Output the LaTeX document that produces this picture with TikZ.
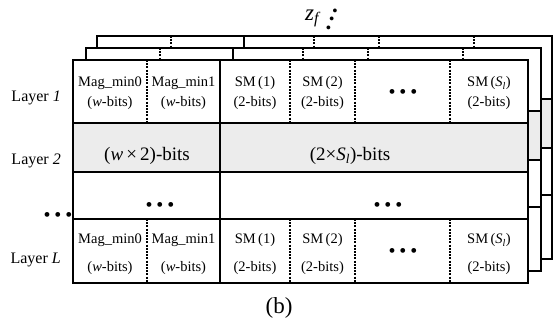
\documentclass[tikz,border=0pt]{standalone}
\usepackage{fontspec}
\setmainfont{Liberation Serif}
\usepackage{xcolor}
\definecolor{bitgray}{RGB}{236,236,236}
\tikzset{
  wordframe/.style={
    draw=black,
    line width=2.7pt
  },
  rowsplit/.style={
    draw=black,
    line width=2.7pt
  },
  fieldsplit/.style={
    draw=black,
    line width=1.2pt,
    dash pattern=on 2pt off 1.2pt
  },
  fieldtext/.style={
    font=\fontsize{14.5}{20}\selectfont,
    align=center,
    inner sep=0pt
  },
  fieldtextL/.style={
    fieldtext,
    font=\fontsize{14.5}{28}\selectfont
  },
  layertext/.style={
    font=\fontsize{16}{18}\selectfont,
    anchor=base east,
    inner sep=0pt
  },
  widetext/.style={
    font=\fontsize{19}{22}\selectfont,
    anchor=base,
    inner sep=0pt
  },
  dotstext/.style={
    font=\fontsize{20}{22}\selectfont,
    inner sep=0pt
  },
  captext/.style={
    font=\fontsize{23}{26}\selectfont,
    anchor=base,
    inner sep=0pt
  }
}
\newcommand{\bitdots}{\textbullet\kern3.8pt\textbullet\kern3.8pt\textbullet}
% one stored word of the layer memory, drawn at the current shift
\newcommand{\drawword}{%
  \fill[white] (73,60) rectangle (528,283);
  \fill[bitgray] (73,123) rectangle (528,172);
  \draw[fieldsplit] (147,60) -- (147,123) (290,60) -- (290,123) (355,60) -- (355,123) (450,60) -- (450,123);
  \draw[fieldsplit] (147,219) -- (147,283) (290,219) -- (290,283) (355,219) -- (355,283) (450,219) -- (450,283);
  \draw[rowsplit] (73,123) -- (528,123) (73,172) -- (528,172) (73,219) -- (528,219) (220,60) -- (220,283);
  \draw[wordframe] (73,60) rectangle (528,283);
}

\begin{document}
\begin{tikzpicture}[x=1pt, y=-1pt]
    \useasboundingbox (0,0) rectangle (555,324);

    % stacked words, back to front
    \foreach \dx/\dy in {24/-24, 13/-12, 0/0}{
      \begin{scope}[shift={(\dx,\dy)}]
        \drawword
      \end{scope}
    }

    % layer 1
    \node (minA) [fieldtext] at (110,93.5) {Mag\_min0\\(\textit{w}-bits)};
    \node (minB) [fieldtext] at (183.5,93.5) {Mag\_min1\\(\textit{w}-bits)};
    \node (smA) [fieldtext] at (255,93.5) {SM\,(1)\\(2-bits)};
    \node (smB) [fieldtext] at (322.5,93.5) {SM\,(2)\\(2-bits)};
    \node (smGap) [dotstext] at (403,94) {\bitdots};
    \node (smS) [fieldtext] at (489,93.5) {SM\,(\textit{S}\textsubscript{\textit{l}})\\(2-bits)};

    % layer 2
    \node (magBits) [widetext] at (147,160) {(\textit{w}\,×\,2)-bits};
    \node (smBits) [widetext] at (350,160) {(2×\textit{S}\textsubscript{\textit{l}})-bits};

    % skipped layers
    \node (gapLeft) [dotstext] at (160,207) {\bitdots};
    \node (gapRight) [dotstext] at (388,207) {\bitdots};

    % layer L
    \node (minAL) [fieldtextL] at (110,254.5) {Mag\_min0\\(\textit{w}-bits)};
    \node (minBL) [fieldtextL] at (183.5,254.5) {Mag\_min1\\(\textit{w}-bits)};
    \node (smAL) [fieldtextL] at (255,254.5) {SM\,(1)\\(2-bits)};
    \node (smBL) [fieldtextL] at (322.5,254.5) {SM\,(2)\\(2-bits)};
    \node (smGapL) [dotstext] at (403,253) {\bitdots};
    \node (smSL) [fieldtextL] at (489,254.5) {SM\,(\textit{S}\textsubscript{\textit{l}})\\(2-bits)};

    % layer names
    \node (layOne) [layertext] at (61,101) {Layer \textit{1}};
    \node (layTwo) [layertext] at (61,164) {Layer \textit{2}};
    \node (layGap) [dotstext] at (58,217) {\bitdots};
    \node (layL) [layertext] at (61,263) {Layer \textit{L}};

    % frame index and caption
    \node (zf) [captext] at (313,20) {\textit{z}\textsubscript{\textit{f}}};
    \node (zfGap) [dotstext, rotate=68, font=\fontsize{16}{18}\selectfont] at (333.3,20) {\textbullet\kern3.3pt\textbullet\kern3.3pt\textbullet};
    \node (cap) [captext] at (279,313) {(b)};
\end{tikzpicture}
\end{document}
